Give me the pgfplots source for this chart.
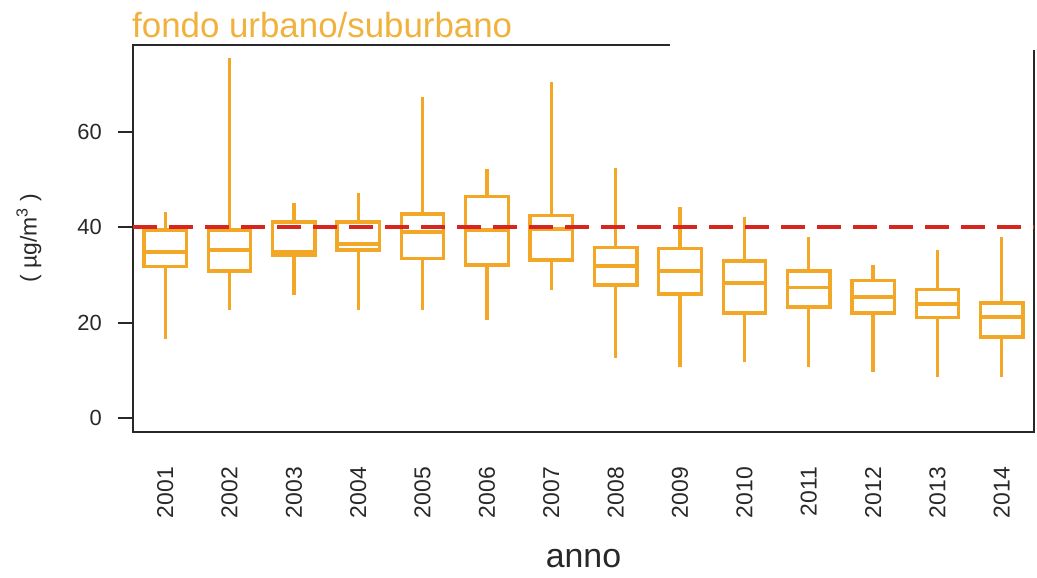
\documentclass[border=0pt]{standalone}
\usepackage{pgfplots}
\pgfplotsset{compat=1.18}
\usepgfplotslibrary{statistics}
\usepackage{fontspec}
\setmainfont{Liberation Sans}
\definecolor{boxorange}{RGB}{242,168,38}
\definecolor{titleorange}{RGB}{240,178,60}
\definecolor{limred}{RGB}{214,38,30}
\definecolor{axgray}{RGB}{40,40,40}
\newcommand{\bx}[6]{%
  \addplot[draw=boxorange, line width=3.3bp, solid,
    boxplot prepared={draw direction=y, draw position=#1, lower whisker=#2, lower quartile=#3,
      median=#4, upper quartile=#5, upper whisker=#6,
      box extend=0.66, whisker extend=0}] coordinates {};}
\begin{document}
\begin{tikzpicture}
\useasboundingbox (-133bp,-146bp) rectangle (904bp,432bp);
\begin{axis}[
  at={(0,0)}, anchor=south west,
  scale only axis, width=901bp, height=387bp,
  xmin=0.5, xmax=14.5, ymin=-2.93, ymax=78.2,
  axis line style={draw=axgray, line width=2.6bp},
  xtick={1,...,14},
  xticklabels={2001,2002,2003,2004,2005,2006,2007,2008,2009,2010,2011,2012,2013,2014},
  xtick style={draw=none},
  xticklabel style={rotate=90, anchor=east, inner sep=0pt, font=\fontsize{23}{24}\selectfont, text=axgray},
  xticklabel shift=20bp,
  ytick={0,20,40,60},
  ytick pos=left, tick align=outside,
  major tick length=15bp,
  ytick style={draw=axgray, line width=2bp},
  yticklabel style={anchor=east, inner sep=0pt, font=\fontsize{22}{24}\selectfont, text=axgray},
  yticklabel shift=16bp,
  /pgf/number format/assume math mode=true,
  clip=false,
]
\bx{1}{16.6}{31.7}{34.8}{39.4}{43.2}
\bx{2}{22.6}{30.8}{35.2}{39.4}{75.5}
\bx{3}{25.8}{34.0}{34.8}{41.1}{45.1}
\bx{4}{22.6}{35.2}{36.5}{41.1}{47.2}
\bx{5}{22.6}{33.5}{39.0}{42.8}{67.3}
\bx{6}{20.5}{32.1}{39.4}{46.5}{52.2}
\bx{7}{26.8}{33.1}{39.6}{42.4}{70.4}
\bx{8}{12.6}{27.9}{31.9}{35.8}{52.4}
\bx{9}{10.7}{26.0}{30.8}{35.6}{44.2}
\bx{10}{11.7}{22.0}{28.3}{32.9}{42.1}
\bx{11}{10.7}{23.3}{27.3}{30.8}{37.9}
\bx{12}{9.6}{22.0}{25.4}{28.9}{32.1}
\bx{13}{8.6}{21.0}{23.9}{27.0}{35.2}
\bx{14}{8.6}{17.0}{21.2}{24.1}{37.9}
\addplot[draw=limred, line width=3.8bp, dash pattern=on 24bp off 12bp] coordinates {(0.5,40) (14.5,40)};
\coordinate (pA) at (rel axis cs:0.596,0.987);
\coordinate (pB) at (rel axis cs:1,1);
\node[anchor=base west, inner sep=0pt, text=titleorange, font=\fontsize{35}{38}\selectfont]
  at ([xshift=-1bp,yshift=7bp]rel axis cs:0,1) {fondo urbano/suburbano};
\node[anchor=base, inner sep=0pt, text=axgray, font=\fontsize{34}{36}\selectfont]
  at ([yshift=-135bp]rel axis cs:0.5,0) {anno};
\node[rotate=90, anchor=center, inner sep=0pt, text=axgray, font=\fontsize{23}{26}\selectfont]
  at ([xshift=-104bp]rel axis cs:0,0.5) {( µg/m\textsuperscript{3} )};
\end{axis}
\fill[white] (pA) rectangle ([xshift=10bp,yshift=20bp]pB);
\end{tikzpicture}
\end{document}
